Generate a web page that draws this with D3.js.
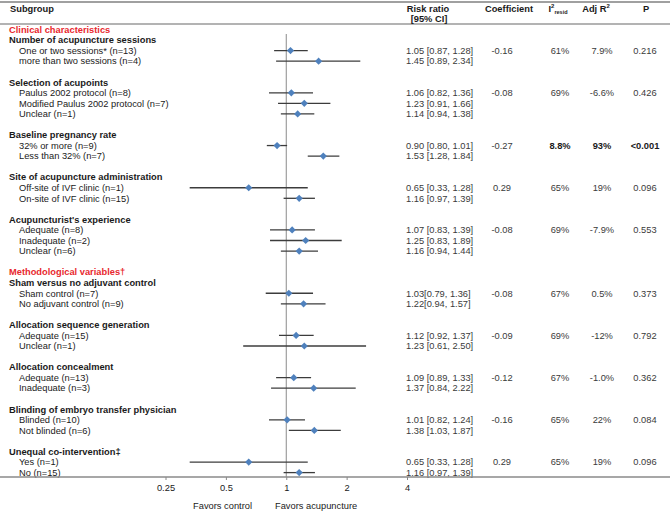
<!DOCTYPE html>
<html><head><meta charset="utf-8">
<script src="https://cdn.jsdelivr.net/npm/d3@7"></script>
<style>
html,body{margin:0;padding:0;background:#fff;}
svg{display:block;font-family:"Liberation Sans",Arial,sans-serif;}
</style></head>
<body><svg id="chart" width="670" height="514"></svg>
<script>
// ---------- data ----------
const sections = ["Clinical characteristics", "Methodological variables\u2020"];
const groupNames = ["Number of acupuncture sessions","Selection of acupoints","Baseline pregnancy rate",
  "Site of acupuncture administration","Acupuncturist's experience","Sham versus no adjuvant control",
  "Allocation sequence generation","Allocation concealment","Blinding of embryo transfer physician",
  "Unequal co-intervention\u2021"];
const groupSection = [0,0,0,0,0,1,1,1,1,1];
const groupSizes = [2,3,2,2,3,2,2,2,2,2];
const subgroupLabels = ["One or two sessions* (n=13)","more than two sessions (n=4)",
  "Paulus 2002 protocol (n=8)","Modified Paulus 2002 protocol (n=7)","Unclear (n=1)",
  "32% or more (n=9)","Less than 32% (n=7)",
  "Off-site of IVF clinic (n=1)","On-site of IVF clinic (n=15)",
  "Adequate (n=8)","Inadequate (n=2)","Unclear (n=6)",
  "Sham control (n=7)","No adjuvant control (n=9)",
  "Adequate (n=15)","Unclear (n=1)",
  "Adequate (n=13)","Inadequate (n=3)",
  "Blinded (n=10)","Not blinded (n=6)",
  "Yes (n=1)","No (n=15)"];
const riskRatio = [1.05,1.45,1.06,1.23,1.14,0.90,1.53,0.65,1.16,1.07,1.25,1.16,1.03,1.22,1.12,1.23,1.09,1.37,1.01,1.38,0.65,1.16];
const ciLower   = [0.87,0.89,0.82,0.91,0.94,0.80,1.28,0.33,0.97,0.83,0.83,0.94,0.79,0.94,0.92,0.61,0.89,0.84,0.82,1.03,0.33,0.97];
const ciUpper   = [1.28,2.34,1.36,1.66,1.38,1.01,1.84,1.28,1.39,1.39,1.89,1.44,1.36,1.57,1.37,2.50,1.33,2.22,1.24,1.87,1.28,1.39];
const ciSpace   = [1,1,1,1,1,1,1,1,1,1,1,1,0,0,1,1,1,1,1,1,1,1];
const coefficient = ["-0.16","-0.08","-0.27","0.29","-0.08","-0.08","-0.09","-0.12","-0.16","0.29"];
const i2resid = ["61%","69%","8.8%","65%","69%","67%","69%","67%","65%","65%"];
const adjR2 = ["7.9%","-6.6%","93%","19%","-7.9%","0.5%","-12%","-1.0%","22%","19%"];
const pValues = ["0.216","0.426","<0.001","0.096","0.553","0.373","0.792","0.362","0.084","0.096"];
const significant = [0,0,1,0,0,0,0,0,0,0];
const tickValues = [0.25,0.5,1,2,4];

// ---------- row layout ----------
const rows = [];
let si = 0, lastSection = -1;
groupNames.forEach((g, gi) => {
  if (groupSection[gi] !== lastSection) {
    if (gi > 0) rows.push({type:"blank"});
    rows.push({type:"section", text: sections[groupSection[gi]]});
    lastSection = groupSection[gi];
  } else rows.push({type:"blank"});
  rows.push({type:"group", text: g, gi});
  for (let k = 0; k < groupSizes[gi]; k++) {
    rows.push({type:"item", text: subgroupLabels[si], si, gi, first: k===0});
    si++;
  }
});
// remove extra blank logic: blank after each group except end (handled above)
rows.forEach((r,i)=>r.idx=i);

const svg = d3.select("#chart");
const FS = "9.3px";
const y = d3.scalePoint().domain(d3.range(rows.length)).range([29.5, 472.6]);
const x = d3.scaleLog().base(2).domain([0.25,4]).range([165.5,407]);

const dark = "#1a1a1a", grey = "#3a3a3a";

// rules
svg.append("line").attr("x1",0).attr("x2",670).attr("y1",2).attr("y2",2).attr("stroke","#808080").attr("stroke-width",1.5);
svg.append("line").attr("x1",0).attr("x2",670).attr("y1",24).attr("y2",24).attr("stroke","#9a9a9a").attr("stroke-width",1.5);

// header
const hdr = svg.append("g").attr("font-size",FS).attr("font-weight","bold").attr("fill",dark);
hdr.append("text").attr("x",10).attr("y",12).text("Subgroup");
hdr.append("text").attr("x",428).attr("y",12).attr("text-anchor","middle").text("Risk ratio");
hdr.append("text").attr("x",429).attr("y",22).attr("text-anchor","middle").text("[95% CI]");
hdr.append("text").attr("x",509).attr("y",12).attr("text-anchor","middle").text("Coefficient");
const ih = hdr.append("text").attr("x",558).attr("y",12).attr("text-anchor","middle");
ih.append("tspan").text("I");
ih.append("tspan").attr("font-size","6px").attr("dy",-4).text("2");
ih.append("tspan").attr("font-size","5.5px").attr("dy",6).text("resid");
const ah = hdr.append("text").attr("x",596).attr("y",12).attr("text-anchor","middle");
ah.append("tspan").text("Adj R");
ah.append("tspan").attr("font-size","6px").attr("dy",-4).text("2");
hdr.append("text").attr("x",646).attr("y",12).attr("text-anchor","middle").text("P");

// labels
const lab = svg.append("g").attr("font-size",FS);
rows.forEach(r => {
  if (r.type === "blank") return;
  const t = lab.append("text").attr("y", y(r.idx)).attr("dy","0.35em").text(r.text);
  if (r.type === "section") t.attr("x",9).attr("fill","#e8282e").attr("font-weight","bold");
  else if (r.type === "group") t.attr("x",9).attr("fill",dark).attr("font-weight","bold");
  else t.attr("x",19).attr("fill",dark);
});

// reference line
svg.append("line").attr("x1",x(1)).attr("x2",x(1)).attr("y1",34).attr("y2",477).attr("stroke","#8a8a8a").attr("stroke-width",1);

// CI + points
const items = rows.filter(r => r.type === "item");
const f2 = d3.format(".2f");
svg.append("g").selectAll("line").data(items).join("line")
  .attr("x1", d => x(ciLower[d.si])).attr("x2", d => x(ciUpper[d.si]))
  .attr("y1", d => y(d.idx)).attr("y2", d => y(d.idx))
  .attr("stroke","#3c3c3c").attr("stroke-width",1.3);
svg.append("g").selectAll("path").data(items).join("path")
  .attr("d", d3.symbol(d3.symbolSquare, 26))
  .attr("transform", d => `translate(${x(riskRatio[d.si])},${y(d.idx)}) rotate(45)`)
  .attr("fill","#4f81bd");

// right columns
const val = svg.append("g").attr("font-size",FS).attr("fill",grey);
items.forEach(d => {
  const s = f2(riskRatio[d.si]) + (ciSpace[d.si] ? " " : "") + "[" + f2(ciLower[d.si]) + ", " + f2(ciUpper[d.si]) + "]";
  val.append("text").attr("x",406).attr("y",y(d.idx)).attr("dy","0.35em").text(s);
  if (d.first) {
    const gi = d.gi, yy = y(d.idx);
    const b = significant[gi] ? "bold" : "normal";
    val.append("text").attr("x",502).attr("y",yy).attr("dy","0.35em").attr("text-anchor","middle").text(coefficient[gi]);
    val.append("text").attr("x",560).attr("y",yy).attr("dy","0.35em").attr("text-anchor","middle").attr("font-weight",b).attr("fill",b==="bold"?dark:grey).text(i2resid[gi]);
    val.append("text").attr("x",602).attr("y",yy).attr("dy","0.35em").attr("text-anchor","middle").attr("font-weight",b).attr("fill",b==="bold"?dark:grey).text(adjR2[gi]);
    val.append("text").attr("x",645).attr("y",yy).attr("dy","0.35em").attr("text-anchor","middle").attr("font-weight",b).attr("fill",b==="bold"?dark:grey).text(pValues[gi]);
  }
});

// axis
const axis = svg.append("g").attr("transform","translate(0,477)")
  .call(d3.axisBottom(x).tickValues(tickValues).tickFormat(d3.format("")).tickSize(3).tickPadding(4));
axis.select(".domain").remove();
axis.selectAll("text").attr("font-size",FS).attr("fill",dark).attr("font-family","'Liberation Sans',Arial,sans-serif");
axis.selectAll("line").attr("stroke","#888");
svg.append("line").attr("x1",0).attr("x2",670).attr("y1",477).attr("y2",477).attr("stroke","#8a8a8a").attr("stroke-width",1.5);

svg.append("text").attr("x",252).attr("y",509).attr("text-anchor","end").attr("font-size",FS).attr("fill",dark).text("Favors control");
svg.append("text").attr("x",275).attr("y",509).attr("font-size",FS).attr("fill",dark).text("Favors acupuncture");
</script></body></html>
